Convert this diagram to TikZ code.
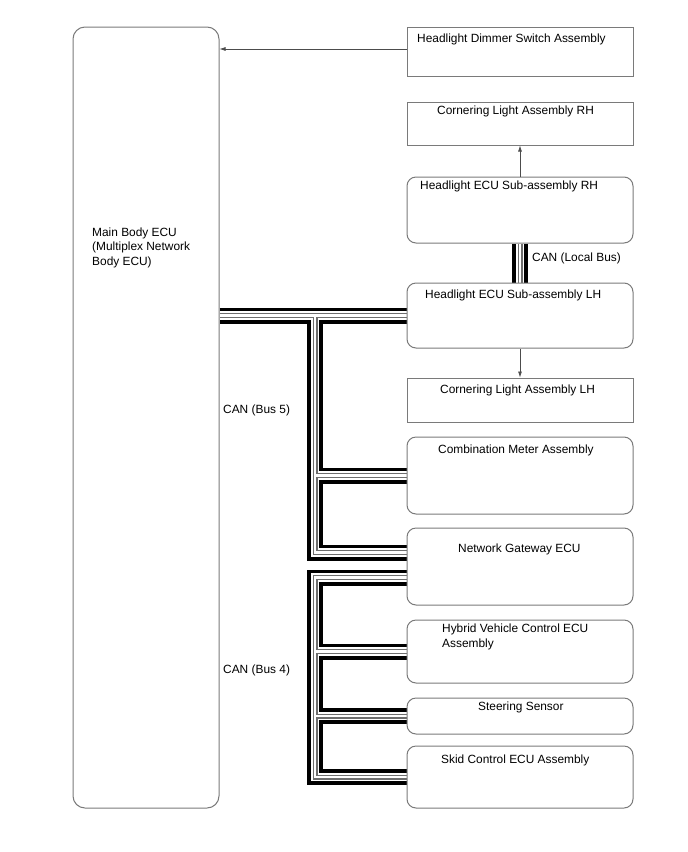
\documentclass[tikz,border=0pt]{standalone}
\usepackage{fontspec}
\setmainfont{Liberation Sans}
\usetikzlibrary{calc,backgrounds,arrows.meta}
\definecolor{boxgray}{HTML}{7A7A7A}
\definecolor{busgray}{HTML}{6E6E6E}
\tikzset{
  ecubox/.style={draw=boxgray, line width=1pt, fill=white, rounded corners=9pt, inner sep=0pt},
  plainbox/.style={draw=boxgray, line width=1pt, fill=white, inner sep=0pt},
  lbl/.style={anchor=base west, inner sep=0pt, font=\fontsize{11.9}{14.5}\selectfont, align=left},
  sig/.style={draw=black!70, line width=0.7pt, -{Latex[length=6pt,width=4pt]}},
  busA/.style={line width=16pt, black, line join=miter, line cap=butt},
  busB/.style={line width=8.5pt, white, line join=miter, line cap=butt},
  busC/.style={line width=5pt, busgray, line join=miter, line cap=butt},
  busD/.style={line width=2.4pt, white, line join=miter, line cap=butt},
}
\newcommand{\buspaths}[1]{%
  \draw[#1] (mainecu.east |- hlL.west) -- (hlL.west);
  \draw[#1] (j5) -- (j5 |- ngwtop) -- (ngwtop);
  \draw[#1] (j5 |- cmb.west) -- (cmb.west);
  \draw[#1] (ngwbot) -- (ngwbot -| j5) -- (j5 |- skid.west) -- (skid.west);
  \draw[#1] (j5 |- hyb.west) -- (hyb.west);
  \draw[#1] (j5 |- ster.west) -- (ster.west);
  \draw[#1] (hlR.south) -- (hlL.north);
}
\begin{document}
\begin{tikzpicture}[x=1pt,y=-1pt]
\useasboundingbox (0,0) rectangle (688,852);
% boxes
\node[ecubox, rounded corners=12pt, minimum width=146pt, minimum height=781pt] (mainecu) at (146,417.5) {};
\node[plainbox, minimum width=226pt, minimum height=49pt] (dim) at (520,51.5) {};
\node[plainbox, minimum width=226pt, minimum height=43pt] (corR) at (520,123.5) {};
\node[ecubox, minimum width=226pt, minimum height=66pt] (hlR) at (520,210) {};
\node[ecubox, minimum width=226pt, minimum height=65pt] (hlL) at (520,315.5) {};
\node[plainbox, minimum width=226pt, minimum height=44pt] (corL) at (520,400) {};
\node[ecubox, minimum width=226pt, minimum height=77pt] (cmb) at (520,475.5) {};
\node[ecubox, minimum width=226pt, minimum height=77pt] (ngw) at (520,566.5) {};
\node[ecubox, minimum width=226pt, minimum height=63pt] (hyb) at (520,651.5) {};
\node[ecubox, minimum width=226pt, minimum height=36pt] (ster) at (520,716) {};
\node[ecubox, minimum width=226pt, minimum height=62pt] (skid) at (520,777) {};
% helper coordinates
\coordinate (j5) at (315,315.5);
\coordinate (ngwtop) at ($(ngw.west)+(0,-14)$);
\coordinate (ngwbot) at ($(ngw.west)+(0,11)$);
% buses
\begin{pgfonlayer}{background}
\buspaths{busA}
\buspaths{busB}
\buspaths{busC}
\buspaths{busD}
\end{pgfonlayer}
% arrows
\coordinate (dimw) at ($(dim.west)+(0,-2.5)$);
\draw[sig] (dimw) -- (mainecu.east |- dimw);
\draw[sig] (hlR.north) -- (corR.south);
\draw[sig] (hlL.south) -- (corL.north);
% texts
\node[lbl] (tmain) at (92,265) {Main Body ECU\\(Multiplex Network\\Body ECU)};
\node[lbl] (tdim) at (417,42) {Headlight Dimmer Switch Assembly};
\node[lbl] (tcorR) at (437,114) {Cornering Light Assembly RH};
\node[lbl] (thlR) at (420,189) {Headlight ECU Sub-assembly RH};
\node[lbl] (thlL) at (425,298) {Headlight ECU Sub-assembly LH};
\node[lbl] (tcorL) at (440,393) {Cornering Light Assembly LH};
\node[lbl] (tcmb) at (438,453) {Combination Meter Assembly};
\node[lbl] (tngw) at (458,552) {Network Gateway ECU};
\node[lbl] (thyb) at (442,647) {Hybrid Vehicle Control ECU\\Assembly};
\node[lbl] (tster) at (478,710) {Steering Sensor};
\node[lbl] (tskid) at (441,763) {Skid Control ECU Assembly};
\node[lbl] (tlocal) at (532,261) {CAN (Local Bus)};
\node[lbl] (tb5) at (223,413) {CAN (Bus 5)};
\node[lbl] (tb4) at (223,673) {CAN (Bus 4)};
\end{tikzpicture}
\end{document}
